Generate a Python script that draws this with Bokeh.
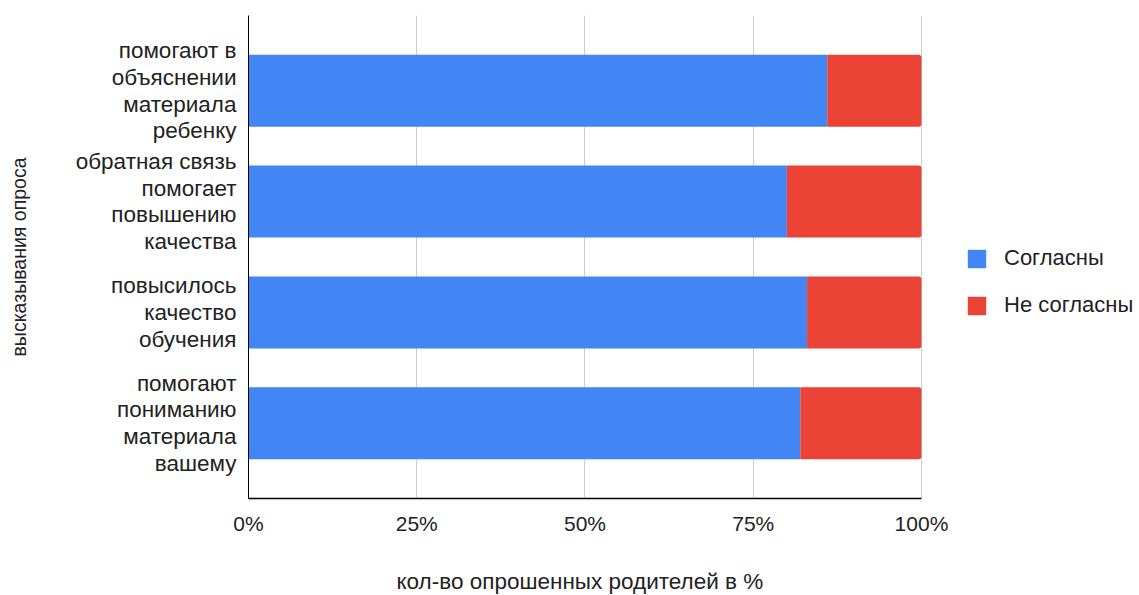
from bokeh.plotting import figure
from bokeh.models import FactorRange, Range1d, FixedTicker, ColumnDataSource, Legend, LegendItem, Title
from bokeh.embed import file_html
from bokeh.resources import INLINE

# ---- data ----
categories = [
    "помогают в\nобъяснении\nматериала\nребенку",
    "обратная связь\nпомогает\nповышению\nкачества",
    "повысилось\nкачество\nобучения",
    "помогают\nпониманию\nматериала\nвашему",
]
agree = [86, 80, 83, 82]
disagree = [14, 20, 17, 18]
series_names = ["Согласны", "Не согласны"]
series_colors = ["#4285F4", "#EA4335"]
x_ticks = [0, 25, 50, 75, 100]
x_tick_labels = ["0%", "25%", "50%", "75%", "100%"]
x_title = "кол-во опрошенных родителей в %"
y_title = "высказывания опроса"

FONT = "Liberation Sans"
TXT = "#222222"

source = ColumnDataSource(dict(cat=categories, agree=agree, disagree=disagree))

# the frame extends to the right edge so the legend can sit inside it;
# the value axis itself is bounded to 0..100
p = figure(
    width=1139, height=595,
    y_range=FactorRange(factors=categories[::-1], range_padding=0.18,
                        range_padding_units="absolute"),
    x_range=Range1d(0, 132.4),
    output_backend="svg", toolbar_location=None,
    min_border_left=248, min_border_right=0,
    min_border_top=15, min_border_bottom=97,
)

renderers = p.hbar_stack(["agree", "disagree"], y="cat", height=0.65, source=source,
                         color=series_colors, line_color=None)
try:
    renderers[1].glyph.border_radius = (0, 3, 3, 0)
except Exception:
    pass

p.outline_line_color = None
p.ygrid.grid_line_color = None
p.xgrid.grid_line_color = "#cccccc"
p.xgrid.grid_line_width = 1
p.xaxis.ticker = FixedTicker(ticks=x_ticks)
p.xaxis.bounds = (x_ticks[0], x_ticks[-1])
p.xaxis.major_label_overrides = {t: l for t, l in zip(x_ticks, x_tick_labels)}

for ax in (p.xaxis[0], p.yaxis[0]):
    ax.major_tick_line_color = None
    ax.minor_tick_line_color = None
    ax.axis_line_color = "#000000"
    ax.axis_line_width = 1
    ax.major_label_text_font = FONT
    ax.major_label_text_color = TXT
    # blank axis labels used only as spacers before the titles
    ax.axis_label = " "
    ax.axis_label_text_font_size = "1px"

p.xaxis.axis_line_width = 1.5
p.xaxis.major_label_text_font_size = "21px"
p.xaxis.major_label_standoff = 7
p.xaxis.axis_label_standoff = 23

# x title centred on the 0..100 span rather than on the wider frame
p.add_layout(Title(text=x_title, align="left", offset=148, standoff=4,
                   text_font=FONT, text_font_size="22.5px",
                   text_font_style="normal", text_color=TXT), "below")

p.yaxis.major_label_text_font_size = "22.5px"
p.yaxis.major_label_standoff = 6
p.yaxis.major_label_text_line_height = 1.07
p.yaxis.axis_label_standoff = 36

p.add_layout(Title(text=y_title, align="center", offset=-6, standoff=6,
                   text_font=FONT, text_font_size="19.5px",
                   text_font_style="normal", text_color=TXT), "left")

lg = Legend(items=[LegendItem(label=n, renderers=[r]) for n, r in zip(series_names, renderers)])
lg.location = (717, 180)
lg.padding = 0
lg.margin = 0
lg.border_line_alpha = 0
lg.background_fill_alpha = 0
lg.glyph_width = 23
lg.glyph_height = 23
lg.label_standoff = 16
lg.spacing = 21
lg.label_text_font = FONT
lg.label_text_font_size = "22px"
lg.label_text_color = TXT
p.add_layout(lg)

open("out.html", "w").write(file_html(p, INLINE))
